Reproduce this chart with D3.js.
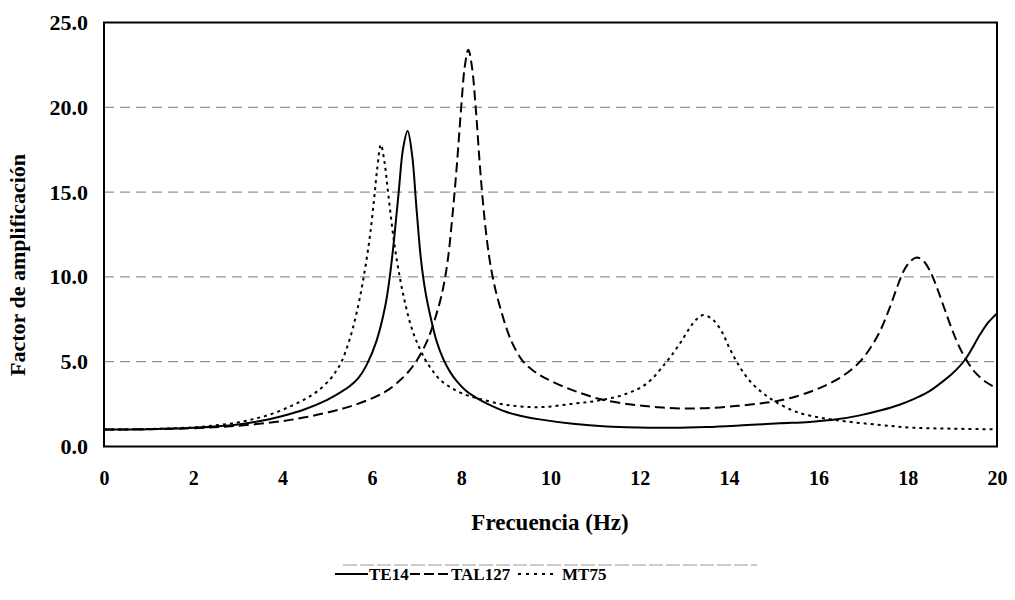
<!DOCTYPE html>
<html>
<head>
<meta charset="utf-8">
<script src="https://cdn.jsdelivr.net/npm/d3@7"></script>
<style>
  html, body { margin: 0; padding: 0; background: #fff; }
  svg { display: block; }
  text { font-family: "Liberation Serif", "Times New Roman", serif; font-weight: bold; fill: #000; }
</style>
</head>
<body>
<svg id="chart" width="1015" height="600"></svg>
<script>
// ---- data ----
const seriesNames = ["TE14", "TAL127", "MT75"];
const xTicks = [0, 2, 4, 6, 8, 10, 12, 14, 16, 18, 20];
const yTicks = [0, 5, 10, 15, 20, 25];
const gridValues = [5, 10, 15, 20];

const te14Freq = [0, 1, 2, 3, 3.5, 4, 4.5, 5.0, 5.3, 5.5, 5.7, 5.88, 6.1, 6.3, 6.4, 6.5, 6.6, 6.7, 6.8, 6.9, 7.0, 7.1, 7.2, 7.3, 7.45, 7.6, 7.75, 7.9, 8.1, 8.35, 8.6, 9.0, 9.3, 9.76, 10.5, 11.26, 12.0, 12.75, 13.5, 14.3, 15.14, 15.8, 16.41, 16.9, 17.38, 17.8, 18.12, 18.45, 18.72, 19.0, 19.28, 19.62, 19.8, 20];
const te14Amp  = [1.0, 1.02, 1.1, 1.3, 1.5, 1.8, 2.2, 2.75, 3.2, 3.55, 4.05, 4.8, 6.2, 8.3, 10.0, 12.3, 15.0, 17.6, 18.6, 17.2, 14.0, 11.0, 9.1, 7.8, 6.2, 5.15, 4.4, 3.85, 3.3, 2.85, 2.5, 2.05, 1.83, 1.6, 1.34, 1.18, 1.12, 1.1, 1.15, 1.25, 1.37, 1.45, 1.6, 1.82, 2.12, 2.45, 2.78, 3.2, 3.7, 4.3, 5.1, 6.6, 7.3, 7.85];

const tal127Freq = [0, 1, 2, 3, 4, 4.5, 5.0, 5.5, 6.1, 6.4, 6.63, 6.8, 7.0, 7.25, 7.5, 7.6, 7.7, 7.8, 7.9, 8.0, 8.08, 8.16, 8.24, 8.33, 8.42, 8.52, 8.62, 8.72, 8.83, 9.05, 9.2, 9.39, 9.6, 9.8, 10.0, 10.3, 10.6, 11.1, 11.8, 12.4, 13.0, 13.6, 14.2, 14.7, 15.03, 15.5, 15.89, 16.2, 16.48, 16.75, 16.93, 17.15, 17.38, 17.57, 17.75, 17.9, 18.05, 18.2, 18.35, 18.5, 18.65, 18.8, 18.95, 19.1, 19.28, 19.5, 19.75, 20];
const tal127Amp  = [1.0, 1.02, 1.08, 1.22, 1.5, 1.72, 2.0, 2.35, 2.95, 3.4, 3.9, 4.35, 5.05, 6.3, 8.3, 9.4, 11.0, 13.5, 16.5, 20.0, 22.4, 23.4, 22.4, 19.8, 16.5, 13.5, 11.3, 9.8, 8.6, 6.7, 5.8, 5.0, 4.5, 4.15, 3.88, 3.52, 3.22, 2.8, 2.48, 2.32, 2.24, 2.28, 2.4, 2.54, 2.66, 2.95, 3.3, 3.65, 4.05, 4.55, 5.0, 5.75, 6.8, 8.0, 9.3, 10.3, 10.9, 11.15, 10.95, 10.35, 9.4, 8.3, 7.2, 6.2, 5.25, 4.4, 3.8, 3.43];

const mt75Freq = [0, 1, 2, 2.5, 3, 3.4, 3.79, 4.2, 4.54, 4.8, 5.06, 5.2, 5.32, 5.5, 5.66, 5.81, 5.95, 6.05, 6.12, 6.2, 6.28, 6.37, 6.5, 6.63, 6.74, 6.87, 7.0, 7.19, 7.35, 7.52, 7.75, 8.05, 8.42, 9.02, 9.76, 10.5, 11.1, 11.7, 12.15, 12.6, 12.9, 13.12, 13.27, 13.42, 13.65, 13.85, 14.0, 14.17, 14.35, 14.54, 14.78, 15.03, 15.4, 15.74, 16.41, 17.38, 18.12, 19.0, 20];
const mt75Amp  = [1.0, 1.03, 1.13, 1.25, 1.42, 1.65, 1.95, 2.4, 2.85, 3.3, 3.95, 4.45, 5.0, 6.3, 7.9, 9.9, 12.3, 14.6, 16.4, 17.8, 16.8, 14.8, 12.0, 9.9, 8.5, 7.15, 6.2, 5.15, 4.5, 3.95, 3.5, 3.1, 2.8, 2.45, 2.32, 2.52, 2.72, 3.11, 3.7, 5.0, 6.08, 7.0, 7.5, 7.75, 7.45, 6.7, 5.85, 5.0, 4.25, 3.65, 3.1, 2.65, 2.15, 1.86, 1.55, 1.27, 1.11, 1.05, 1.01];

// ---- chart ----
const plot = { left: 104, top: 22.5, right: 997, bottom: 446.5 };
const svg = d3.select("#chart");

const x = d3.scaleLinear().domain([0, 20]).range([plot.left, plot.right]);
const y = d3.scaleLinear().domain([0, 25]).range([plot.bottom, plot.top]);

// gridlines
svg.append("g").selectAll("line").data(gridValues).join("line")
  .attr("x1", plot.left).attr("x2", plot.right)
  .attr("y1", d => y(d)).attr("y2", d => y(d))
  .attr("stroke", "#777").attr("stroke-width", 1)
  .attr("stroke-dasharray", "10,6");

// axes
const yAxis = svg.append("g").attr("transform", `translate(${plot.left},0)`)
  .call(d3.axisLeft(y).tickValues(yTicks).tickFormat(d3.format(".1f")).tickSize(0).tickPadding(16));
yAxis.select(".domain").remove();
yAxis.selectAll("text").style("font-size", "22px").style("font-family", "Liberation Serif").style("font-weight", "bold");

const xAxis = svg.append("g").attr("transform", `translate(0,${plot.bottom})`)
  .call(d3.axisBottom(x).tickValues(xTicks).tickFormat(d3.format("d")).tickSize(0).tickPadding(24));
xAxis.select(".domain").remove();
xAxis.selectAll("text").style("font-size", "20px").style("font-family", "Liberation Serif").style("font-weight", "bold");

// series
const series = [
  { name: seriesNames[0], f: te14Freq, a: te14Amp, dash: null },
  { name: seriesNames[1], f: tal127Freq, a: tal127Amp, dash: "10,5" },
  { name: seriesNames[2], f: mt75Freq, a: mt75Amp, dash: "3,4" }
];
const line = d3.line().x(d => x(d[0])).y(d => y(d[1])).curve(d3.curveCatmullRom.alpha(0.5));
svg.append("clipPath").attr("id", "clip").append("rect")
  .attr("x", plot.left).attr("y", plot.top).attr("width", plot.right - plot.left).attr("height", plot.bottom - plot.top);
svg.append("g").attr("clip-path", "url(#clip)").selectAll("path").data(series).join("path")
  .attr("d", s => line(s.f.map((f, i) => [f, s.a[i]])))
  .attr("fill", "none").attr("stroke", "#000").attr("stroke-width", 2)
  .attr("stroke-dasharray", s => s.dash);

// frame
svg.append("rect").attr("x", plot.left).attr("y", plot.top)
  .attr("width", plot.right - plot.left).attr("height", plot.bottom - plot.top)
  .attr("fill", "none").attr("stroke", "#000").attr("stroke-width", 2);

// axis titles
svg.append("text").attr("x", 550).attr("y", 530).attr("text-anchor", "middle")
  .style("font-size", "23px").text("Frecuencia (Hz)");
svg.append("text").attr("transform", "translate(25,265) rotate(-90)").attr("text-anchor", "middle")
  .style("font-size", "22px").text("Factor de amplificación");

// legend
svg.append("line").attr("x1", 343).attr("x2", 757).attr("y1", 565).attr("y2", 565)
  .attr("stroke", "#999").attr("stroke-width", 1).attr("stroke-dasharray", "14,3");
const legendPos = [
  { sx1: 335, sx2: 368, tx: 369 },
  { sx1: 410, sx2: 448, tx: 451 },
  { sx1: 518, sx2: 557, tx: 562 }
];
const lg = svg.append("g").selectAll("g").data(series).join("g");
lg.append("line")
  .attr("x1", (d, i) => legendPos[i].sx1).attr("x2", (d, i) => legendPos[i].sx2)
  .attr("y1", 574).attr("y2", 574)
  .attr("stroke", "#000").attr("stroke-width", 2)
  .attr("stroke-dasharray", (d, i) => i === 1 ? "10,4" : (i === 2 ? "3,5" : null));
lg.append("text")
  .attr("x", (d, i) => legendPos[i].tx).attr("y", 580)
  .style("font-size", "17px").text(d => d.name);
</script>
</body>
</html>
